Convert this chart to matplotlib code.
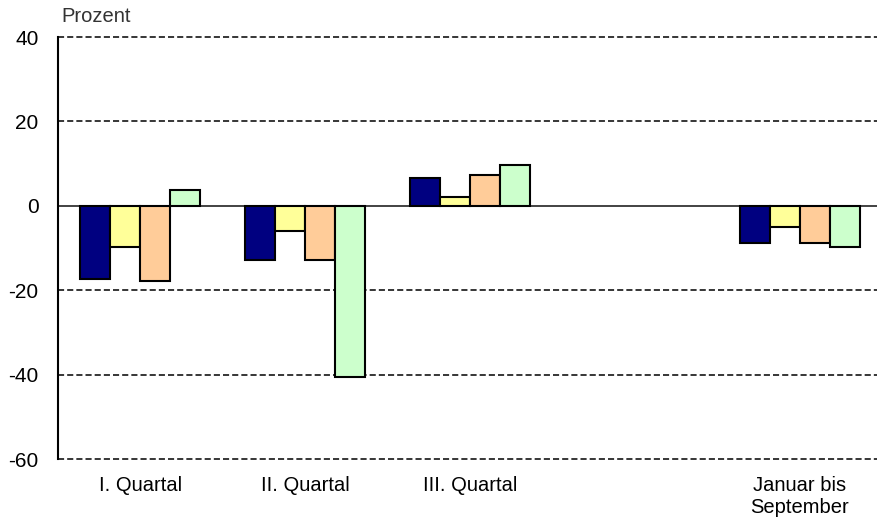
import numpy as np
import matplotlib.pyplot as plt

plt.rcParams['font.family'] = ['Liberation Sans', 'DejaVu Sans']
plt.rcParams['axes.unicode_minus'] = False

categories = ['I. Quartal', 'II. Quartal', 'III. Quartal', '', 'Januar bis\nSeptember']
series_a = [-17.4, -12.8, 6.7, np.nan, -8.9]
series_b = [-9.8, -5.9, 2.0, np.nan, -5.0]
series_c = [-17.9, -12.8, 7.3, np.nan, -8.9]
series_d = [3.8, -40.5, 9.6, np.nan, -9.7]
colors = ['#000080', '#FFFF99', '#FFCC99', '#CCFFCC']
yticks = [-60, -40, -20, 0, 20, 40]

fig = plt.figure(figsize=(8.77, 5.25), dpi=100)
ax = fig.add_axes([58 / 877, 1 - 459 / 525, 824 / 877, 422 / 525])

x = np.arange(len(categories))
w = 0.182
for k, (vals, c) in enumerate(zip([series_a, series_b, series_c, series_d], colors)):
    ax.bar(x + (k - 1.5) * w, vals, width=w, color=c, edgecolor='black',
           linewidth=1.5, zorder=3)

for y in [40, 20, -20, -40, -60]:
    ax.axhline(y, color='black', linestyle=(0, (4, 2)), linewidth=1.1,
               zorder=1, clip_on=False)
ax.axhline(0, color='#222222', linewidth=1.2, zorder=2)

ax.set_xlim(-0.5, len(categories) - 0.5)
ax.set_ylim(-60, 40)
ax.set_yticks(yticks)
ax.set_xticks(x)
ax.set_xticklabels(categories, fontsize=14.5, va='top', linespacing=1.25)
ax.tick_params(axis='y', length=0, pad=14, labelsize=15)
ax.tick_params(axis='x', length=0, pad=12)
for s in ['top', 'right', 'bottom']:
    ax.spines[s].set_visible(False)
ax.spines['left'].set_linewidth(1.5)

fig.text(61 / 877, 1 - 17 / 525, 'Prozent', fontsize=14.5, color='#333333', va='center')

fig.savefig('out.png', dpi=100)
